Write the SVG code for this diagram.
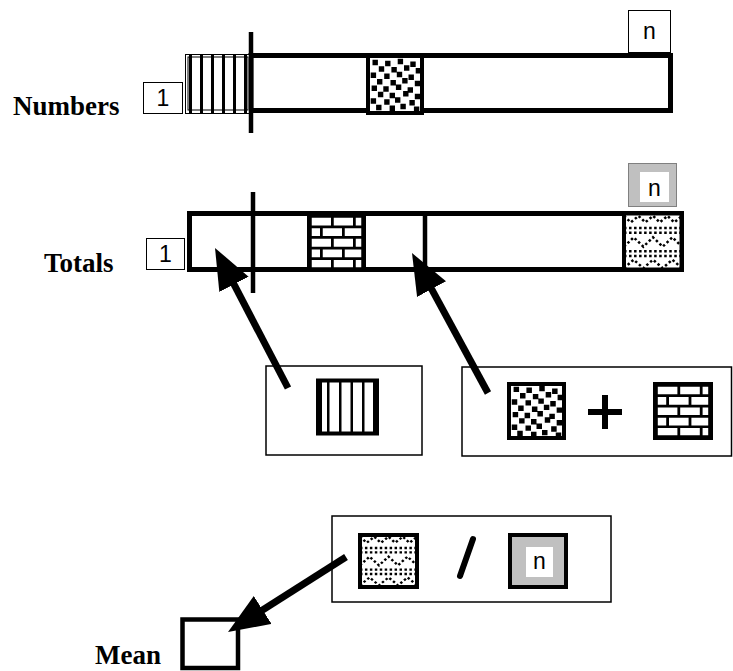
<svg xmlns="http://www.w3.org/2000/svg" width="733" height="671" viewBox="0 0 733 671">
<style>
.lbl{font-family:"Liberation Serif","Times New Roman",serif;font-weight:bold;font-size:27px;fill:#000}
.num{font-family:"Liberation Sans",Arial,sans-serif;font-size:23px;fill:#000;text-anchor:middle}
.thin{fill:#fff;stroke:#000;stroke-width:1}
.frame{fill:#fff;stroke:#000;stroke-width:1.5}
.bar{fill:#fff;stroke:#000;stroke-width:5}
.sep{stroke:#000;stroke-width:4.5}
.sq{fill:none;stroke:#000;stroke-width:4}
.shaft{stroke:#000;stroke-width:7;fill:none}
.stripe{fill:#000}
</style>
<defs>
<marker id="head" markerUnits="userSpaceOnUse" viewBox="0 -17 42 34" markerWidth="42" markerHeight="34" refX="1" refY="0" orient="auto"><path d="M0,-16.5 L41,0 L0,16.5 z" fill="#000"/></marker>
<symbol id="speckle" viewBox="0 0 60 60" preserveAspectRatio="none">
<rect width="60" height="60" fill="#fff"/>
<path fill="#000" d="M5,3h6v6h-6zM19,4h6v6h-6zM33,2h6v6h-6zM47,5h6v6h-6zM12,10h6v6h-6zM26,11h6v6h-6zM40,9h6v6h-6zM53,12h6v6h-6zM3,17h6v6h-6zM18,18h6v6h-6zM32,16h6v6h-6zM45,19h6v6h-6zM10,24h6v6h-6zM25,25h6v6h-6zM38,23h6v6h-6zM52,26h6v6h-6zM4,31h6v6h-6zM17,32h6v6h-6zM31,30h6v6h-6zM44,33h6v6h-6zM11,38h6v6h-6zM24,39h6v6h-6zM39,37h6v6h-6zM52,40h6v6h-6zM3,45h6v6h-6zM18,46h6v6h-6zM30,44h6v6h-6zM46,47h6v6h-6zM9,52h6v6h-6zM24,53h6v6h-6zM36,51h6v6h-6zM51,54h6v6h-6z"/>
</symbol>
<symbol id="brick" viewBox="0 0 60 60" preserveAspectRatio="none">
<rect width="60" height="60" fill="#000"/>
<path fill="#fff" d="M3,3h21v8.5h-21zM27,3h21v8.5h-21zM51,3h6v8.5h-6zM3,14.5h9v8.5h-9zM15,14.5h21v8.5h-21zM39,14.5h18v8.5h-18zM3,26h21v8.5h-21zM27,26h21v8.5h-21zM51,26h6v8.5h-6zM3,37.5h9v8.5h-9zM15,37.5h21v8.5h-21zM39,37.5h18v8.5h-18zM3,49h21v8h-21zM27,49h21v8h-21zM51,49h6v8h-6z"/>
</symbol>
<symbol id="zig" viewBox="0 0 60 60" preserveAspectRatio="none">
<rect width="60" height="60" fill="#fff"/>
<g fill="none" stroke="#000" stroke-width="2.6" stroke-dasharray="2.6 2.6">
<polyline points="0,2 7,9 15,2 22,9 30,2 37,9 45,2 52,9 60,2"/>
<line x1="0" y1="15" x2="60" y2="15"/>
<line x1="0" y1="20" x2="60" y2="20"/>
<polyline points="0,35 10,25 20,35 30,25 40,35 50,25 60,35"/>
<line x1="0" y1="40" x2="60" y2="40"/>
<line x1="0" y1="45" x2="60" y2="45"/>
<polyline points="0,58 10,49 20,58 30,49 40,58 50,49 60,58"/>
</g>
</symbol>
</defs>
<rect width="733" height="671" fill="#fff"/>

<g id="numbers-label"><text class="lbl" x="13" y="115">Numbers</text></g>
<g id="numbers-bar">
<rect class="bar" x="251" y="55.5" width="419.5" height="55"/>
<rect class="thin" x="185.5" y="54.5" width="65" height="59"/>
<rect fill="none" stroke="#000" stroke-width="1" x="188" y="57" width="60" height="53"/>
<rect class="stripe" x="189" y="55" width="3" height="58"/>
<rect class="stripe" x="200" y="55" width="3" height="58"/>
<rect class="stripe" x="211" y="55" width="3" height="58"/>
<rect class="stripe" x="222" y="55" width="3" height="58"/>
<rect class="stripe" x="233" y="55" width="3" height="58"/>
<rect class="stripe" x="244" y="55" width="3" height="58"/>
<use href="#speckle" x="368" y="57" width="54" height="55"/>
<rect class="sq" x="368" y="56" width="54" height="57"/>
<line class="sep" x1="251" y1="32" x2="251" y2="133"/>
</g>
<g id="numbers-1"><rect class="thin" x="143.5" y="82.5" width="39" height="31"/><text class="num" x="163" y="106">1</text></g>
<g id="numbers-n"><rect class="thin" x="628.5" y="10.5" width="42" height="42"/><text class="num" x="649.5" y="39">n</text></g>

<g id="totals-label"><text class="lbl" x="44" y="272">Totals</text></g>
<g id="totals-bar">
<rect class="bar" x="189.5" y="213.5" width="492" height="56"/>
<use href="#brick" x="309" y="215" width="55" height="55"/>
<rect class="sq" x="309" y="214" width="55" height="56"/>
<line class="sep" x1="425" y1="214" x2="425" y2="270"/>
<use href="#zig" x="624" y="214" width="58" height="56"/>
<rect class="sq" fill="none" stroke-width="5" x="624" y="213.5" width="57.5" height="56"/>
<line class="sep" x1="253" y1="192" x2="253" y2="293"/>
</g>
<g id="totals-1"><rect class="thin" x="146.5" y="238.5" width="38" height="31"/><text class="num" x="165.5" y="262">1</text></g>
<g id="totals-n"><rect x="628.5" y="163.5" width="48" height="43" fill="#c0c0c0" stroke="#808080" stroke-width="1"/><rect x="640" y="172" width="29" height="30" fill="#fff"/><text class="num" x="654.5" y="196">n</text></g>

<g id="first-total">
<rect class="frame" x="266" y="366" width="156" height="89"/>
<rect fill="#fff" stroke="#000" stroke-width="4" x="318" y="380.5" width="59" height="53"/>
<rect class="stripe" x="316" y="379" width="6" height="56"/>
<rect class="stripe" x="373" y="379" width="6" height="56"/>
<rect class="stripe" x="327" y="379" width="2.5" height="56"/>
<rect class="stripe" x="339" y="379" width="2.5" height="56"/>
<rect class="stripe" x="350.5" y="379" width="2.5" height="56"/>
<rect class="stripe" x="362" y="379" width="2.5" height="56"/>
</g>
<g id="running-total">
<rect class="frame" x="462" y="367" width="269.5" height="89"/>
<use href="#speckle" x="509" y="384" width="55" height="54"/>
<rect class="sq" x="509" y="384" width="55" height="54"/>
<path d="M588,412 H622 M605,395 V429" stroke="#000" stroke-width="6" fill="none"/>
<use href="#brick" x="655" y="384" width="56" height="54"/>
<rect class="sq" x="655" y="384" width="56" height="54"/>
</g>
<g id="mean-formula">
<rect class="frame" x="332" y="516" width="279" height="86"/>
<use href="#zig" x="360" y="535" width="57" height="52"/>
<rect class="sq" x="360" y="535" width="57" height="52"/>
<line x1="473" y1="539" x2="460" y2="576" stroke="#000" stroke-width="6" stroke-linecap="round"/>
<rect x="510" y="535" width="56" height="52" fill="#c0c0c0" stroke="#000" stroke-width="4"/>
<rect x="526" y="547" width="27" height="30" fill="#fff"/>
<text class="num" x="539.5" y="569">n</text>
</g>
<g id="mean-label"><text class="lbl" x="95" y="664">Mean</text></g>
<g id="mean-box"><rect fill="#fff" stroke="#000" stroke-width="4.5" x="182.5" y="619.5" width="55.5" height="48.5"/></g>

<g id="connectors">
<line class="shaft" x1="288" y1="388" x2="233.5" y2="283.4" marker-end="url(#head)"/>
<line class="shaft" x1="488" y1="393" x2="431.1" y2="288.2" marker-end="url(#head)"/>
<line class="shaft" x1="346" y1="557" x2="261.8" y2="610.5" marker-end="url(#head)"/>
</g>
</svg>
